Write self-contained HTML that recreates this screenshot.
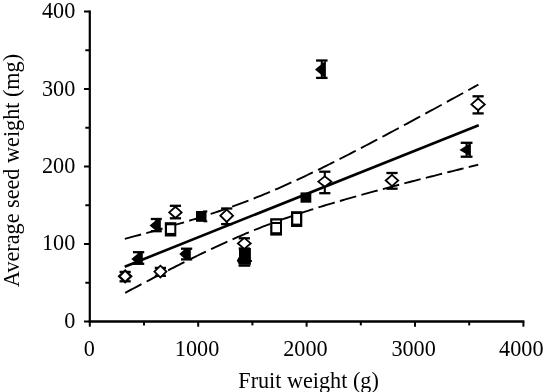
<!DOCTYPE html>
<html><head><meta charset="utf-8"><style>
html,body{margin:0;padding:0;background:#fff;width:544px;height:392px;overflow:hidden}
svg{display:block;filter:grayscale(1)}
text{font-family:"Liberation Serif",serif;font-size:22.2px;fill:#000}
</style></head><body>
<svg width="544" height="392" viewBox="0 0 544 392">
<line x1="89.8" y1="10.4" x2="89.8" y2="322.7" stroke="#000" stroke-width="2.2"/>
<line x1="88.7" y1="321.5" x2="524.4" y2="321.5" stroke="#000" stroke-width="2.3"/>
<line x1="84.0" y1="321.50" x2="89.8" y2="321.50" stroke="#000" stroke-width="2"/>
<line x1="85.3" y1="282.75" x2="89.8" y2="282.75" stroke="#000" stroke-width="2"/>
<line x1="84.0" y1="244.00" x2="89.8" y2="244.00" stroke="#000" stroke-width="2"/>
<line x1="85.3" y1="205.25" x2="89.8" y2="205.25" stroke="#000" stroke-width="2"/>
<line x1="84.0" y1="166.50" x2="89.8" y2="166.50" stroke="#000" stroke-width="2"/>
<line x1="85.3" y1="127.75" x2="89.8" y2="127.75" stroke="#000" stroke-width="2"/>
<line x1="84.0" y1="89.00" x2="89.8" y2="89.00" stroke="#000" stroke-width="2"/>
<line x1="85.3" y1="50.25" x2="89.8" y2="50.25" stroke="#000" stroke-width="2"/>
<line x1="84.0" y1="11.50" x2="89.8" y2="11.50" stroke="#000" stroke-width="2"/>
<line x1="89.80" y1="321.5" x2="89.80" y2="326.7" stroke="#000" stroke-width="2"/>
<line x1="144.00" y1="321.5" x2="144.00" y2="325.4" stroke="#000" stroke-width="2"/>
<line x1="198.20" y1="321.5" x2="198.20" y2="326.7" stroke="#000" stroke-width="2"/>
<line x1="252.40" y1="321.5" x2="252.40" y2="325.4" stroke="#000" stroke-width="2"/>
<line x1="306.60" y1="321.5" x2="306.60" y2="326.7" stroke="#000" stroke-width="2"/>
<line x1="360.80" y1="321.5" x2="360.80" y2="325.4" stroke="#000" stroke-width="2"/>
<line x1="415.00" y1="321.5" x2="415.00" y2="326.7" stroke="#000" stroke-width="2"/>
<line x1="469.20" y1="321.5" x2="469.20" y2="325.4" stroke="#000" stroke-width="2"/>
<line x1="523.40" y1="321.5" x2="523.40" y2="326.7" stroke="#000" stroke-width="2"/>
<text x="75.3" y="327.90" text-anchor="end">0</text>
<text x="75.3" y="250.40" text-anchor="end">100</text>
<text x="75.3" y="172.90" text-anchor="end">200</text>
<text x="75.3" y="96.00" text-anchor="end">300</text>
<text x="75.3" y="18.40" text-anchor="end">400</text>
<text x="89.35" y="355.6" text-anchor="middle">0</text>
<text x="197.05" y="355.6" text-anchor="middle">1000</text>
<text x="305.40" y="355.6" text-anchor="middle">2000</text>
<text x="413.60" y="355.6" text-anchor="middle">3000</text>
<text x="521.30" y="355.6" text-anchor="middle">4000</text>
<text x="238.3" y="387.8">Fruit weight (g)</text>
<text transform="translate(19.1,287) rotate(-90)" x="0" y="0">Average seed weight (mg)</text>
<path d="M124.80 238.86 L127.52 238.14 L130.23 237.41 L132.95 236.68 L135.67 235.95 L138.38 235.22 L141.10 234.48M146.27 233.07 L148.99 232.33 L151.70 231.58 L154.42 230.82 L157.14 230.06 L159.85 229.30 L162.57 228.53M167.74 227.06 L170.46 226.28 L173.17 225.49 L175.89 224.70 L178.61 223.91 L181.32 223.10 L184.04 222.29M189.21 220.73 L191.93 219.91 L194.64 219.07 L197.36 218.23 L200.08 217.37 L202.79 216.52 L205.51 215.65M210.68 213.97 L213.40 213.08 L216.11 212.17 L218.83 211.26 L221.55 210.33 L224.26 209.40 L226.98 208.45M232.15 206.62 L234.87 205.65 L237.58 204.66 L240.30 203.65 L243.02 202.64 L245.73 201.61 L248.45 200.57M253.62 198.56 L256.34 197.48 L259.05 196.39 L261.77 195.29 L264.49 194.18 L267.20 193.05 L269.92 191.91M275.09 189.71 L277.81 188.53 L280.52 187.34 L283.24 186.14 L285.96 184.93 L288.67 183.71 L291.39 182.48M296.56 180.10 L299.28 178.84 L301.99 177.57 L304.71 176.28 L307.43 174.99 L310.14 173.69 L312.86 172.38M318.03 169.87 L320.75 168.54 L323.46 167.20 L326.18 165.85 L328.90 164.50 L331.61 163.14 L334.33 161.77M339.50 159.16 L342.22 157.77 L344.93 156.38 L347.65 154.99 L350.37 153.59 L353.08 152.19 L355.80 150.78M360.97 148.09 L363.69 146.67 L366.40 145.25 L369.12 143.82 L371.84 142.39 L374.55 140.96 L377.27 139.52M382.44 136.78 L385.16 135.33 L387.87 133.88 L390.59 132.43 L393.31 130.98 L396.02 129.52 L398.74 128.06M403.91 125.28 L406.63 123.82 L409.34 122.35 L412.06 120.88 L414.78 119.41 L417.49 117.94 L420.21 116.46M425.38 113.65 L428.10 112.18 L430.81 110.70 L433.53 109.21 L436.25 107.73 L438.96 106.25 L441.68 104.76M446.85 101.93 L449.57 100.44 L452.28 98.95 L455.00 97.46 L457.72 95.97 L460.43 94.47 L463.15 92.98M468.32 90.13 L470.00 89.21 L471.68 88.28 L473.36 87.35 L475.04 86.43 L476.72 85.50 L478.40 84.57" fill="none" stroke="#000" stroke-width="1.9"/>
<path d="M125.20 292.85 L127.92 291.40 L130.63 289.95 L133.35 288.51 L136.07 287.07 L138.78 285.63 L141.50 284.19M146.67 281.47 L149.39 280.05 L152.10 278.63 L154.82 277.21 L157.54 275.80 L160.25 274.39 L162.97 272.98M168.14 270.33 L170.86 268.94 L173.57 267.55 L176.29 266.17 L179.01 264.80 L181.72 263.43 L184.44 262.07M189.61 259.50 L192.33 258.15 L195.04 256.82 L197.76 255.49 L200.48 254.17 L203.19 252.86 L205.91 251.56M211.08 249.11 L213.80 247.83 L216.51 246.56 L219.23 245.31 L221.95 244.06 L224.66 242.82 L227.38 241.60M232.55 239.30 L235.27 238.11 L237.98 236.93 L240.70 235.76 L243.42 234.61 L246.13 233.46 L248.85 232.33M254.02 230.22 L256.74 229.12 L259.45 228.04 L262.17 226.97 L264.89 225.92 L267.60 224.88 L270.32 223.85M275.49 221.92 L278.21 220.93 L280.92 219.94 L283.64 218.97 L286.36 218.01 L289.07 217.06 L291.79 216.13M296.96 214.37 L299.68 213.47 L302.39 212.57 L305.11 211.68 L307.83 210.80 L310.54 209.93 L313.26 209.07M318.43 207.45 L321.15 206.61 L323.86 205.78 L326.58 204.96 L329.30 204.14 L332.01 203.33 L334.73 202.52M339.90 201.01 L342.62 200.22 L345.33 199.44 L348.05 198.66 L350.77 197.89 L353.48 197.12 L356.20 196.36M361.37 194.92 L364.09 194.16 L366.80 193.42 L369.52 192.67 L372.24 191.93 L374.95 191.19 L377.67 190.46M382.84 189.07 L385.56 188.34 L388.27 187.62 L390.99 186.90 L393.71 186.18 L396.42 185.47 L399.14 184.76M404.31 183.40 L407.03 182.70 L409.74 181.99 L412.46 181.29 L415.18 180.59 L417.89 179.89 L420.61 179.19M425.78 177.87 L428.50 177.18 L431.21 176.49 L433.93 175.80 L436.65 175.11 L439.36 174.42 L442.08 173.73M447.25 172.43 L449.97 171.75 L452.68 171.07 L455.40 170.39 L458.12 169.71 L460.83 169.03 L463.55 168.35M468.72 167.07 L470.30 166.67 L471.88 166.28 L473.46 165.89 L475.04 165.50 L476.62 165.11 L478.20 164.72" fill="none" stroke="#000" stroke-width="1.9"/>
<line x1="124.7" y1="266.7" x2="478.7" y2="125.2" stroke="#000" stroke-width="2.6"/>
<line x1="125.15" y1="271.9" x2="125.15" y2="281.3" stroke="#000" stroke-width="2.1"/><line x1="119.55000000000001" y1="271.9" x2="130.75" y2="271.9" stroke="#000" stroke-width="2.3"/><line x1="119.55000000000001" y1="281.3" x2="130.75" y2="281.3" stroke="#000" stroke-width="2.3"/>
<polygon points="119.15,276.3 125.15,270.5 131.15,276.3 125.15,282.1" fill="#fff" stroke="#000" stroke-width="2.3"/>
<line x1="160.4" y1="267.9" x2="160.4" y2="275.8" stroke="#000" stroke-width="2.1"/><line x1="154.8" y1="267.9" x2="166.0" y2="267.9" stroke="#000" stroke-width="2.3"/><line x1="154.8" y1="275.8" x2="166.0" y2="275.8" stroke="#000" stroke-width="2.3"/>
<polygon points="154.4,271.6 160.4,265.70000000000005 166.4,271.6 160.4,277.5" fill="#fff" stroke="#000" stroke-width="1.8"/>
<line x1="175.45" y1="205.8" x2="175.45" y2="218.3" stroke="#000" stroke-width="2.1"/><line x1="169.85" y1="205.8" x2="181.04999999999998" y2="205.8" stroke="#000" stroke-width="2.3"/><line x1="169.85" y1="218.3" x2="181.04999999999998" y2="218.3" stroke="#000" stroke-width="2.3"/>
<polygon points="169.25,212.4 175.45,206.8 181.64999999999998,212.4 175.45,218.0" fill="#fff" stroke="#000" stroke-width="1.8"/>
<line x1="226.7" y1="208.5" x2="226.7" y2="224.1" stroke="#000" stroke-width="2.1"/><line x1="221.1" y1="208.5" x2="232.29999999999998" y2="208.5" stroke="#000" stroke-width="2.3"/><line x1="221.1" y1="224.1" x2="232.29999999999998" y2="224.1" stroke="#000" stroke-width="2.3"/>
<polygon points="220.35,215.7 226.7,209.5 233.04999999999998,215.7 226.7,221.89999999999998" fill="#fff" stroke="#000" stroke-width="1.8"/>
<line x1="244.3" y1="238.3" x2="244.3" y2="248.5" stroke="#000" stroke-width="2.1"/><line x1="238.70000000000002" y1="238.3" x2="249.9" y2="238.3" stroke="#000" stroke-width="2.3"/><line x1="238.70000000000002" y1="248.5" x2="249.9" y2="248.5" stroke="#000" stroke-width="2.3"/>
<polygon points="237.9,243.4 244.3,237.9 250.70000000000002,243.4 244.3,248.9" fill="#fff" stroke="#000" stroke-width="1.8"/>
<line x1="324.8" y1="171.7" x2="324.8" y2="193.2" stroke="#000" stroke-width="2.1"/><line x1="319.2" y1="171.7" x2="330.40000000000003" y2="171.7" stroke="#000" stroke-width="2.3"/><line x1="319.2" y1="193.2" x2="330.40000000000003" y2="193.2" stroke="#000" stroke-width="2.3"/>
<polygon points="318.25,181.6 324.8,176.4 331.35,181.6 324.8,186.79999999999998" fill="#fff" stroke="#000" stroke-width="1.8"/>
<line x1="392" y1="173" x2="392" y2="188.7" stroke="#000" stroke-width="2.1"/><line x1="386.4" y1="173" x2="397.6" y2="173" stroke="#000" stroke-width="2.3"/><line x1="386.4" y1="188.7" x2="397.6" y2="188.7" stroke="#000" stroke-width="2.3"/>
<polygon points="385.75,180.5 392,174.9 398.25,180.5 392,186.1" fill="#fff" stroke="#000" stroke-width="1.8"/>
<line x1="478.1" y1="96.3" x2="478.1" y2="113.4" stroke="#000" stroke-width="2.1"/><line x1="472.5" y1="96.3" x2="483.70000000000005" y2="96.3" stroke="#000" stroke-width="2.3"/><line x1="472.5" y1="113.4" x2="483.70000000000005" y2="113.4" stroke="#000" stroke-width="2.3"/>
<polygon points="471.40000000000003,104.4 478.1,98.5 484.8,104.4 478.1,110.30000000000001" fill="#fff" stroke="#000" stroke-width="1.8"/>
<rect x="164.8" y="222.2" width="11.50" height="14.30" fill="#000"/><rect x="167" y="225.3" width="7.30" height="7.60" fill="#fff"/>
<rect x="270.2" y="218.2" width="11.80" height="17.40" fill="#000"/><rect x="272.4" y="224.0" width="7.60" height="8.20" fill="#fff"/>
<rect x="272.3" y="220.5" width="7.7" height="1.5" fill="#fff"/>
<rect x="291.0" y="211.2" width="11.30" height="15.80" fill="#000"/><rect x="293.3" y="214.0" width="6.70" height="9.60" fill="#fff"/>
<line x1="138.6" y1="252.2" x2="138.6" y2="263.8" stroke="#000" stroke-width="2.1"/><line x1="132.95" y1="252.2" x2="144.25" y2="252.2" stroke="#000" stroke-width="2.3"/><line x1="132.95" y1="263.8" x2="144.25" y2="263.8" stroke="#000" stroke-width="2.3"/>
<polygon points="131.30,259.00 139.46,252.20 142.80,252.20 142.80,263.80 137.06,263.80" fill="#000"/>
<line x1="156.3" y1="219.0" x2="156.3" y2="231.2" stroke="#000" stroke-width="2.1"/><line x1="150.8" y1="219.0" x2="161.8" y2="219.0" stroke="#000" stroke-width="2.3"/><line x1="150.8" y1="231.2" x2="161.8" y2="231.2" stroke="#000" stroke-width="2.3"/>
<polygon points="149.60,225.50 157.40,219.00 160.80,219.00 160.80,231.20 156.44,231.20" fill="#000"/>
<line x1="186.6" y1="248.7" x2="186.6" y2="259.4" stroke="#000" stroke-width="2.1"/><line x1="181.0" y1="248.7" x2="192.2" y2="248.7" stroke="#000" stroke-width="2.3"/><line x1="181.0" y1="259.4" x2="192.2" y2="259.4" stroke="#000" stroke-width="2.3"/>
<polygon points="179.30,254.00 185.13,248.70 190.80,248.70 190.80,259.40 185.24,259.40" fill="#000"/>
<line x1="321.8" y1="60.5" x2="321.8" y2="77.9" stroke="#000" stroke-width="2.1"/><line x1="316.05" y1="60.5" x2="327.55" y2="60.5" stroke="#000" stroke-width="2.3"/><line x1="316.05" y1="77.9" x2="327.55" y2="77.9" stroke="#000" stroke-width="2.3"/>
<polygon points="315.00,69.60 325.90,60.50 325.90,60.50 325.90,77.90 324.96,77.90" fill="#000"/>
<line x1="466.6" y1="142.8" x2="466.6" y2="156.7" stroke="#000" stroke-width="2.1"/><line x1="460.70000000000005" y1="142.8" x2="472.5" y2="142.8" stroke="#000" stroke-width="2.3"/><line x1="460.70000000000005" y1="156.7" x2="472.5" y2="156.7" stroke="#000" stroke-width="2.3"/>
<polygon points="459.40,149.90 470.90,142.80 470.90,142.80 470.90,156.70 470.90,156.70" fill="#000"/>
<line x1="238.5" y1="265.6" x2="250.3" y2="265.6" stroke="#000" stroke-width="2.3"/>
<polygon points="239,248.0 250.9,248.0 250.9,259.8 252,260.2 252,261.7 250.9,262 250.9,264.8 239,264.8 236.8,260.6 239,256.8" fill="#000"/>
<rect x="196" y="211" width="10.5" height="10.8" fill="#000"/>
<rect x="203" y="210.4" width="4.3" height="2.1" fill="#000"/>
<rect x="203.5" y="220.4" width="3.8" height="1.9" fill="#000"/>
<rect x="300.5" y="192.4" width="10.8" height="10.3" fill="#000"/>
</svg>
</body></html>
